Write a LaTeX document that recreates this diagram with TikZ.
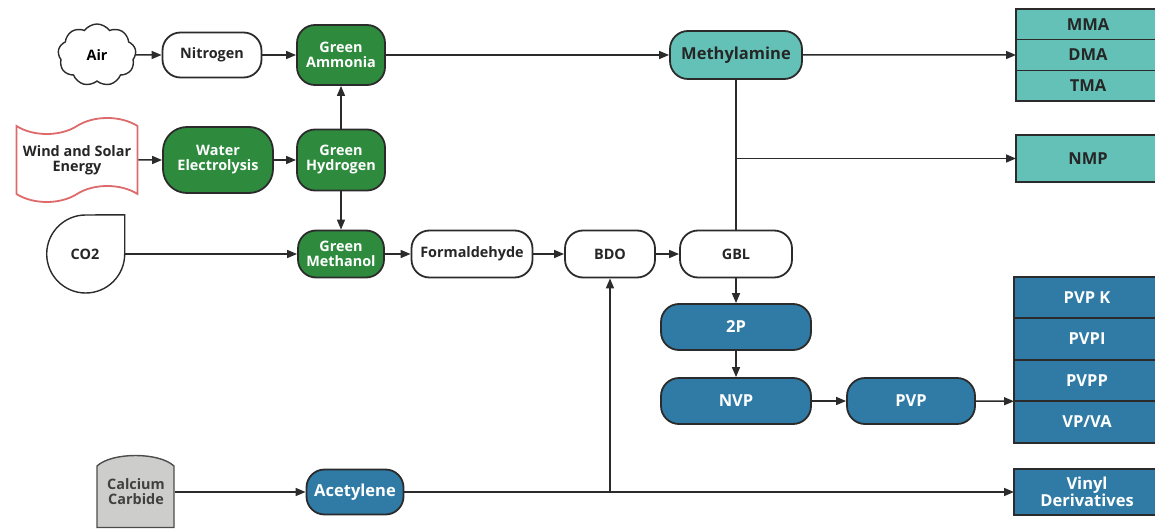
\documentclass[tikz,border=0pt]{standalone}
\usepackage{fontspec}
\setmainfont{Open Sans}
\usetikzlibrary{positioning,shapes.symbols,arrows.meta}

\definecolor{leafgreen}{HTML}{2E8B3E}
\definecolor{seateal}{HTML}{63C1B7}
\definecolor{steelblue}{HTML}{2F7BA5}
\definecolor{inkgray}{HTML}{2B2B2B}
\definecolor{rosered}{HTML}{DD6B6B}
\definecolor{stonegray}{HTML}{CDCECC}

\tikzset{
  every node/.style={font=\bfseries\fontsize{14.4}{15}\selectfont, align=center, inner sep=0pt},
  pill/.style={draw=inkgray, line width=1.8pt, rounded corners=18pt},
  whitebox/.style={pill, fill=white, text=black!85},
  greenbox/.style={pill, fill=leafgreen, text=white},
  tealbox/.style={pill, fill=seateal, text=black!85, font=\bfseries\fontsize{16.5}{17}\selectfont},
  bluebox/.style={pill, fill=steelblue, text=white, font=\bfseries\fontsize{16.5}{17}\selectfont},
  tealrow/.style={draw=inkgray, line width=1.6pt, outer sep=0pt, fill=seateal, text=black!85, minimum width=144pt, font=\bfseries\fontsize{16.5}{17}\selectfont},
  bluerow/.style={draw=inkgray, line width=1.6pt, outer sep=0pt, fill=steelblue, text=white, minimum width=146pt, minimum height=41.5pt, font=\bfseries\fontsize{16.5}{17}\selectfont},
  flow/.style={->, draw=inkgray, line width=1.5pt},
  link/.style={draw=inkgray, line width=1.5pt},
}

\begin{document}
\begin{tikzpicture}[x=1pt, y=-1pt, >={Triangle[length=10pt,width=8pt]}]
  \useasboundingbox (0,0) rectangle (1155,529);

  % Sources
  \node[cloud, cloud puffs=9, cloud puff arc=110, aspect=1.2, draw=inkgray, line width=1.4pt, minimum width=78pt, minimum height=62pt] (air) at (97,55) {Air};
  \node[tape, draw=rosered, line width=1.8pt, fill=white, minimum width=121pt, minimum height=84pt, tape bend height=16pt, text=black!85] (wind) at (77,160) {Wind and Solar\\Energy};
  \node[minimum width=79pt, minimum height=78pt, text=black!85] (co2) at (85,254) {CO2};
  \draw[draw=inkgray, line width=1.4pt] (co2.north east) -- (co2.east) arc[start angle=0, end angle=-270, radius=39pt] -- cycle;
  \draw[draw=gray!60!black, line width=1.4pt, fill=stonegray] (97,527.5) -- (97,466) .. controls (112,452) and (159,452) .. (174,466) -- (174,527.5) -- cycle;
  \node[minimum width=77pt, minimum height=30pt, text=black!75] (carb) at (136,492) {Calcium\\Carbide};

  % Green route
  \node[whitebox, minimum width=99pt, minimum height=45pt] (nitro) at (212,55) {Nitrogen};
  \node[greenbox, minimum width=88pt, minimum height=60pt] (amm) at (341,55) {Green\\Ammonia};
  \node[greenbox, minimum width=110pt, minimum height=66pt, rounded corners=24pt] (elec) at (218,160) {Water\\Electrolysis};
  \node[greenbox, minimum width=88pt, minimum height=61pt] (hyd) at (341,160) {Green\\Hydrogen};
  \node[greenbox, minimum width=86pt, minimum height=47pt] (meth) at (341,254) {Green\\Methanol};

  % Middle chain
  \node[whitebox, minimum width=121pt, minimum height=47pt] (form) at (472,254) {Formaldehyde};
  \node[whitebox, minimum width=90pt, minimum height=47pt] (bdo) at (610,254) {BDO};
  \node[whitebox, minimum width=112pt, minimum height=47pt] (gbl) at (736,254) {GBL};
  \node[tealbox, minimum width=132pt, minimum height=48pt] (methyl) at (736,55) {Methylamine};
  \node[bluebox, minimum width=150pt, minimum height=46pt] (p2) at (736,327) {2P};
  \node[bluebox, minimum width=150pt, minimum height=46pt] (nvp) at (736,401) {NVP};
  \node[bluebox, minimum width=128pt, minimum height=46pt] (pvp) at (911,401) {PVP};
  \node[bluebox, minimum width=97pt, minimum height=45pt] (acet) at (355,492) {Acetylene};

  % Products
  \node[tealrow, minimum height=30.7pt] (mma) at (1088,24.3) {MMA};
  \node[tealrow, minimum height=30.7pt, below=0pt of mma] (dma) {DMA};
  \node[tealrow, minimum height=30.7pt, below=0pt of dma] (tma) {TMA};
  \node[tealrow, minimum height=47pt] (nmp) at (1088,158.5) {NMP};
  \node[bluerow] (pvpk) at (1087,297.5) {PVP K};
  \node[bluerow, below=0pt of pvpk] (pvpi) {PVPI};
  \node[bluerow, below=0pt of pvpi] (pvpp) {PVPP};
  \node[bluerow, below=0pt of pvpp] (vpva) {VP/VA};
  \node[bluerow, minimum height=46pt] (vinyl) at (1087,492) {Vinyl\\Derivatives};

  % Connectors
  \draw[flow] (air) -- (nitro);
  \draw[flow] (nitro) -- (amm);
  \draw[flow] (amm) -- (methyl);
  \draw[flow] (methyl) -- (dma.west);
  \draw[link] (methyl) -- (gbl);
  \draw[flow] (methyl.south |- nmp) -- (nmp.west);
  \draw[flow] (wind) -- (elec);
  \draw[flow] (elec) -- (hyd);
  \draw[flow] (hyd) -- (amm);
  \draw[flow] (hyd) -- (meth);
  \draw[flow] (co2) -- (meth);
  \draw[flow] (meth) -- (form);
  \draw[flow] (form) -- (bdo);
  \draw[flow] (bdo) -- (gbl);
  \draw[flow] (gbl) -- (p2);
  \draw[flow] (p2) -- (nvp);
  \draw[flow] (nvp) -- (pvp);
  \draw[flow] (pvp) -- (pvpp.south west);
  \draw[flow] (carb) -- (acet);
  \draw[flow] (acet) -- (vinyl);
  \draw[flow] (bdo.south |- acet) -- (bdo.south);
\end{tikzpicture}
\end{document}
